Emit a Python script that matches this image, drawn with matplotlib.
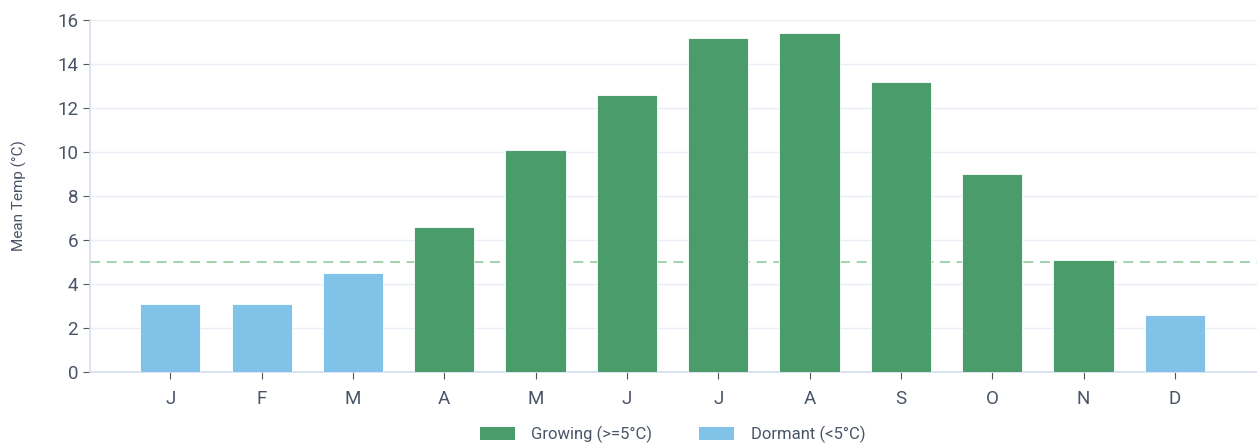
import matplotlib.pyplot as plt
from matplotlib.patches import Patch

months = ['J', 'F', 'M', 'A', 'M', 'J', 'J', 'A', 'S', 'O', 'N', 'D']
mean_temp = [3.1, 3.1, 4.5, 6.6, 10.1, 12.6, 15.2, 15.4, 13.2, 9.0, 5.1, 2.6]
threshold = 5

GREEN = '#4a9d6b'
BLUE = '#80c2e8'
TEXT = '#4a5568'
GRID = '#e8eef6'

plt.rcParams['font.family'] = ['Roboto', 'DejaVu Sans']

fig = plt.figure(figsize=(12.57, 4.47), dpi=100)
ax = fig.add_axes([0.0716, 0.168, 0.9284, 0.787])

x = range(len(months))
colors = [GREEN if t >= threshold else BLUE for t in mean_temp]
ax.bar(x, mean_temp, width=0.66, color=colors, edgecolor='white', linewidth=0.6, zorder=3)
ax.axhline(threshold, color='#8fcc9f', linestyle=(0, (6, 4)), linewidth=1.2, zorder=2)

ax.set_xlim(-0.88, 11.9)
ax.set_ylim(0, 16)
ax.set_yticks(range(0, 17, 2))
ax.set_xticks(list(x))
ax.set_xticklabels(months)
ax.grid(axis='y', color=GRID, linewidth=1, zorder=0)
ax.set_axisbelow(True)

for side in ['top', 'right']:
    ax.spines[side].set_visible(False)
for side in ['left', 'bottom']:
    ax.spines[side].set_color('#d3deec')
    ax.spines[side].set_linewidth(1.2)

ax.tick_params(axis='both', colors='#555555', labelcolor=TEXT, labelsize=13.5, length=5)
ax.tick_params(axis='x', pad=8)
ax.set_ylabel('Mean Temp (°C)', color=TEXT, fontsize=11, labelpad=22)

handles = [Patch(facecolor=GREEN, label='Growing (>=5°C)'),
           Patch(facecolor=BLUE, label='Dormant (<5°C)')]
fig.legend(handles=handles, loc='lower center', bbox_to_anchor=(0.535, -0.025), ncol=2,
           frameon=False, fontsize=12, handlelength=2.1, handleheight=0.8,
           handletextpad=1.0, columnspacing=2.8, labelcolor=TEXT)

fig.savefig('out.png', dpi=100)
